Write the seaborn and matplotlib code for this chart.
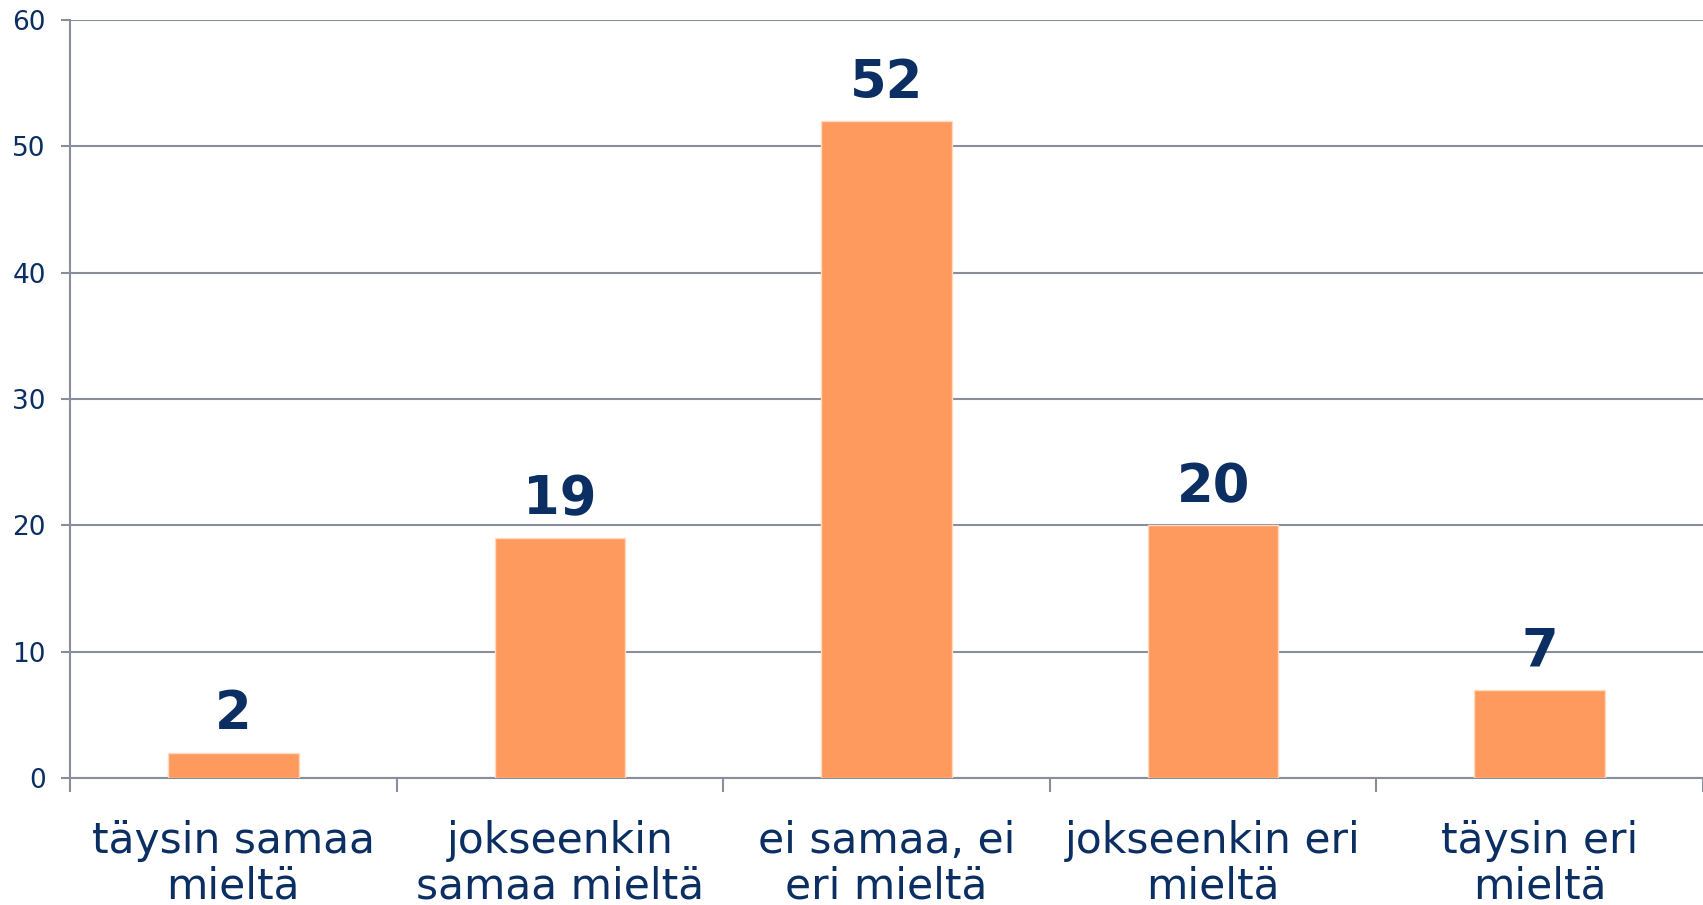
import matplotlib
matplotlib.use("Agg")
import matplotlib.pyplot as plt
import seaborn as sns
from matplotlib.ticker import FixedLocator

# data
categories = ['täysin samaa\nmieltä', 'jokseenkin\nsamaa mieltä', 'ei samaa, ei\neri mieltä',
              'jokseenkin eri\nmieltä', 'täysin eri\nmieltä']
values = [2, 19, 52, 20, 7]
y_ticks = [0, 10, 20, 30, 40, 50, 60]

navy = '#0b2f63'
grid_col = '#8a8d9c'
bar_col = '#ff9a5e'

sns.set_style('white')
plt.rcParams['font.family'] = ['DejaVu Sans']

fig = plt.figure(figsize=(17.03, 9.05), dpi=100)
ax = fig.add_axes([70 / 1703, (905 - 778) / 905, 1 - 70 / 1703, (778 - 20) / 905])

sns.barplot(x=categories, y=values, color=bar_col, width=0.4, saturation=1,
            edgecolor='#ffd9c0', linewidth=1, ax=ax, zorder=3)

ax.set_ylim(0, 60)
ax.set_xlim(-0.5, len(categories) - 0.5)
ax.set_yticks(y_ticks)
ax.yaxis.grid(True, color=grid_col, linewidth=1.5, zorder=0)
ax.set_axisbelow(True)

for side in ['top', 'right']:
    ax.spines[side].set_visible(False)
for side in ['left', 'bottom']:
    ax.spines[side].set_color(grid_col)
    ax.spines[side].set_linewidth(1.5)

ax.tick_params(axis='y', direction='out', length=6.5, width=1.5, color=grid_col,
               labelsize=19, labelcolor=navy, pad=11, left=True)
ax.tick_params(axis='x', which='major', length=0, labelsize=30.5, labelcolor=navy, pad=30)
ax.xaxis.set_minor_locator(FixedLocator([i - 0.5 for i in range(len(categories) + 1)]))
ax.tick_params(axis='x', which='minor', direction='out', length=10, width=1.5,
               color=grid_col, bottom=True)
for lbl in ax.get_xticklabels():
    lbl.set_linespacing(1.12)

ax.bar_label(ax.containers[0], labels=[str(v) for v in values], padding=9,
             fontsize=38, fontweight='bold', color=navy)

ax.set_xlabel('')
ax.set_ylabel('')

fig.savefig('out.png', dpi=100)
